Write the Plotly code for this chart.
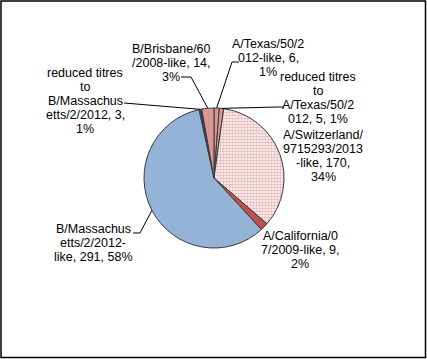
import math
import plotly.graph_objects as go

# ---- data ----
labels = ["A/Texas/50/2012-like",
          "reduced titres to A/Texas/50/2012",
          "A/Switzerland/9715293/2013-like",
          "A/California/07/2009-like",
          "B/Massachusetts/2/2012-like",
          "reduced titres to B/Massachusetts/2/2012",
          "B/Brisbane/60/2008-like"]
values = [6, 5, 170, 9, 291, 3, 14]

# ---- styles / layout ----
colors = ["#D99694", "#D99694", "#FFFFFF", "#C0504D", "#95B3D7", "#1F497D", "#D99694"]
W, H = 427, 359
CX, CY, R = 214, 178, 70          # pie centre / radius in px
LINE_H = 14
FONT = dict(family="Liberation Sans, Arial, sans-serif", size=12.5, color="black")
# wrap positions (character indices) for each label text
wraps = [[12, 24], [14, 17, 30], [14, 26, 37], [14, 29], [11, 23], [14, 17, 29, 44], [13, 28]]
# label block position: centre x, first line centre y (px)
label_pos = [(268, 44), (318, 77), (323, 135), (300, 236), (93, 229), (85, 73), (171, 49)]
# leader line label-side points (px), None = no leader
leader_pts = [[(239, 62), (232, 62)],
              [(283, 107), (277, 107)],
              None,
              None,
              [(133, 233), (140, 233)],
              [(124, 103)],
              [(181, 77), (191, 77)]]


def px(x):
    return x / W


def py(y):
    return 1 - y / H


total = sum(values)
texts = [f"{l}, {v}, {round(100 * v / total)}%" for l, v in zip(labels, values)]

fig = go.Figure(go.Pie(
    labels=labels, values=values, sort=False, direction="clockwise", rotation=0,
    textinfo="none", hoverinfo="label+value+percent", showlegend=False,
    marker=dict(colors=colors, line=dict(color="#3a3a3a", width=1),
                pattern=dict(shape=["", "", ".", "", "", "", ""],
                             fgcolor="#CC6F6D", bgcolor="white",
                             size=3, solidity=0.6, fillmode="overlay")),
    domain=dict(x=[px(CX - R), px(CX + R)], y=[py(CY + R), py(CY - R)]),
))

annotations = []
shapes = []
cum = 0
for i, (t, v) in enumerate(zip(texts, values)):
    pieces, start = [], 0
    for b in wraps[i] + [len(t)]:
        pieces.append(t[start:b].strip())
        start = b
    lx, ly = label_pos[i]
    for k, line in enumerate(pieces):
        annotations.append(dict(x=px(lx), y=py(ly + k * LINE_H), xref="paper", yref="paper",
                                text=line, showarrow=False, xanchor="center", yanchor="middle",
                                font=FONT))
    mid = (cum + v / 2) / total * 2 * math.pi
    cum += v
    if leader_pts[i]:
        ex = CX + R * math.sin(mid)
        ey = CY - R * math.cos(mid)
        pts = leader_pts[i] + [(ex, ey)]
        path = "M " + " L ".join(f"{px(x)},{py(y)}" for x, y in pts)
        shapes.append(dict(type="path", path=path, xref="paper", yref="paper",
                           line=dict(color="black", width=1)))

shapes.append(dict(type="rect", xref="paper", yref="paper",
                   x0=px(1), x1=px(425.5), y0=py(357.5), y1=py(1),
                   line=dict(color="black", width=1.5)))

fig.update_layout(width=W, height=H, margin=dict(l=0, r=0, t=0, b=0),
                  paper_bgcolor="white", plot_bgcolor="white",
                  annotations=annotations, shapes=shapes)

fig.write_html("out.html", config={"displayModeBar": False},
               post_script="document.body.style.margin='0';document.body.style.overflow='hidden';")
